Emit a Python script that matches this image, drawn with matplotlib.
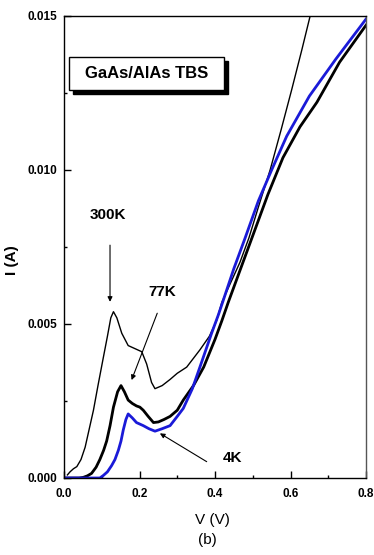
import matplotlib
matplotlib.use("Agg")
import matplotlib.pyplot as plt
from matplotlib.patches import Rectangle
from matplotlib.ticker import MultipleLocator, FormatStrFormatter

plt.rcParams['font.family'] = ['Liberation Sans', 'DejaVu Sans']

# 300 K (thin black)
v_300 = [0.009, 0.016, 0.025, 0.034, 0.045, 0.056, 0.067, 0.078, 0.090, 0.104, 0.115, 0.124,
         0.131, 0.140, 0.153, 0.170, 0.188, 0.206, 0.219, 0.232, 0.241, 0.260, 0.281, 0.300,
         0.325, 0.360, 0.385, 0.404, 0.418, 0.440, 0.466, 0.490, 0.515, 0.546, 0.575, 0.603, 0.630, 0.652]
i_300 = [0.0001, 0.0002, 0.0003, 0.00037, 0.0006, 0.0010, 0.0016, 0.0022, 0.0030, 0.0039, 0.0046, 0.0052,
         0.0054, 0.0052, 0.0047, 0.0043, 0.0042, 0.0041, 0.0037, 0.0031, 0.0029, 0.0030, 0.0032, 0.0034,
         0.0036, 0.00416, 0.0046, 0.0051, 0.0057, 0.0063, 0.0070, 0.0078, 0.0088, 0.0100, 0.0113, 0.0126, 0.0139, 0.0150]

# 77 K (thick black)
v_77 = [0.000, 0.040, 0.051, 0.062, 0.073, 0.085, 0.095, 0.105, 0.113, 0.122, 0.131, 0.142, 0.151,
        0.160, 0.170, 0.181, 0.192, 0.201, 0.210, 0.223, 0.237, 0.250, 0.265, 0.281, 0.300, 0.316,
        0.343, 0.370, 0.400, 0.418, 0.435, 0.480, 0.540, 0.580, 0.625, 0.670, 0.730, 0.800]
i_77 = [0.0, 0.0, 0.00002, 0.00007, 0.00015, 0.00035, 0.0006, 0.0009, 0.0012, 0.0017, 0.0023, 0.0028, 0.0030,
        0.0028, 0.00253, 0.00242, 0.00234, 0.0023, 0.0022, 0.0020, 0.00180, 0.00182, 0.0019, 0.0020, 0.0022, 0.00253,
        0.0030, 0.0036, 0.0045, 0.0051, 0.0057, 0.0072, 0.0092, 0.0104, 0.0114, 0.0122, 0.0135, 0.0147]

# 4 K (blue)
v_4 = [0.000, 0.095, 0.104, 0.115, 0.126, 0.135, 0.144, 0.151, 0.157, 0.164, 0.170, 0.181, 0.192,
       0.210, 0.225, 0.241, 0.260, 0.281, 0.300, 0.316, 0.340, 0.360, 0.391, 0.409, 0.420,
       0.450, 0.480, 0.515, 0.550, 0.590, 0.650, 0.720, 0.800]
i_4 = [0.0, 0.0, 0.00008, 0.0002, 0.0004, 0.0006, 0.0009, 0.0012, 0.00156, 0.0019, 0.00208, 0.00195, 0.0018,
       0.0017, 0.0016, 0.00152, 0.0016, 0.0017, 0.0020, 0.00226, 0.0029, 0.0036, 0.0047, 0.0053, 0.0057,
       0.0068, 0.0078, 0.0090, 0.0100, 0.0111, 0.0124, 0.0136, 0.0149]

x_ticks = [0.0, 0.2, 0.4, 0.6, 0.8]
y_ticks = [0.000, 0.005, 0.010, 0.015]

fig = plt.figure(figsize=(3.74, 5.55), dpi=100)
ax = fig.add_axes([64/374, 77/555, 302/374, 462/555])

ax.plot(v_300, i_300, color='black', lw=1.0)
ax.plot(v_77, i_77, color='black', lw=2.0)
ax.plot(v_4, i_4, color='#1a1ad8', lw=2.0)

ax.set_xlim(0, 0.8)
ax.set_ylim(0, 0.015)
ax.set_xticks(x_ticks)
ax.set_yticks(y_ticks)
ax.xaxis.set_minor_locator(MultipleLocator(0.1))
ax.yaxis.set_minor_locator(MultipleLocator(0.0025))
ax.xaxis.set_major_formatter(FormatStrFormatter('%.1f'))
ax.yaxis.set_major_formatter(FormatStrFormatter('%.3f'))
ax.tick_params(which='both', direction='in', top=False, right=False)
ax.tick_params(which='major', length=5, width=1)
ax.tick_params(which='minor', length=2.5, width=1)
ax.tick_params(axis='y', pad=5)
ax.tick_params(axis='x', pad=7)
for lab in ax.get_xticklabels() + ax.get_yticklabels():
    lab.set_fontsize(8.5)
    lab.set_fontweight('bold')
for s in ax.spines.values():
    s.set_linewidth(1.0)
ax.spines['right'].set_color('#555555')

fig.text(212/374, 1 - 520/555, 'V (V)', ha='center', va='center', fontsize=11)
fig.text(207/374, 1 - 540/555, '(b)', ha='center', va='center', fontsize=11)
fig.text(12/374, 1 - 260/555, 'I (A)', ha='center', va='center', rotation=90,
         fontsize=11, fontweight='bold')

# label box with shadow
ax.add_patch(Rectangle((0.0308, 0.8312), 0.5132, 0.0707, transform=ax.transAxes,
                       facecolor='black', edgecolor='black', zorder=5))
ax.add_patch(Rectangle((0.0175, 0.8398), 0.5125, 0.0708, transform=ax.transAxes,
                       facecolor='white', edgecolor='black', lw=1.0, zorder=6))
ax.text(0.274, 0.8745, 'GaAs/AlAs TBS', transform=ax.transAxes, ha='center', va='center',
        fontsize=12, fontweight='bold', zorder=7)

arrow = dict(arrowstyle='-|>', color='black', lw=0.8, mutation_scale=7, shrinkA=0, shrinkB=0)
ax.annotate('', xy=(0.1219, 0.00572), xytext=(0.1219, 0.00756), arrowprops=arrow)
ax.text(0.1165, 0.00854, '300K', ha='center', va='center', fontsize=11, fontweight='bold')
ax.annotate('', xy=(0.179, 0.00318), xytext=(0.247, 0.00535), arrowprops=arrow)
ax.text(0.259, 0.00605, '77K', ha='center', va='center', fontsize=11, fontweight='bold')
ax.annotate('', xy=(0.254, 0.00145), xytext=(0.378, 0.00053), arrowprops=arrow)
ax.text(0.447, 0.00064, '4K', ha='center', va='center', fontsize=11, fontweight='bold')

fig.savefig('out.png', dpi=100)
